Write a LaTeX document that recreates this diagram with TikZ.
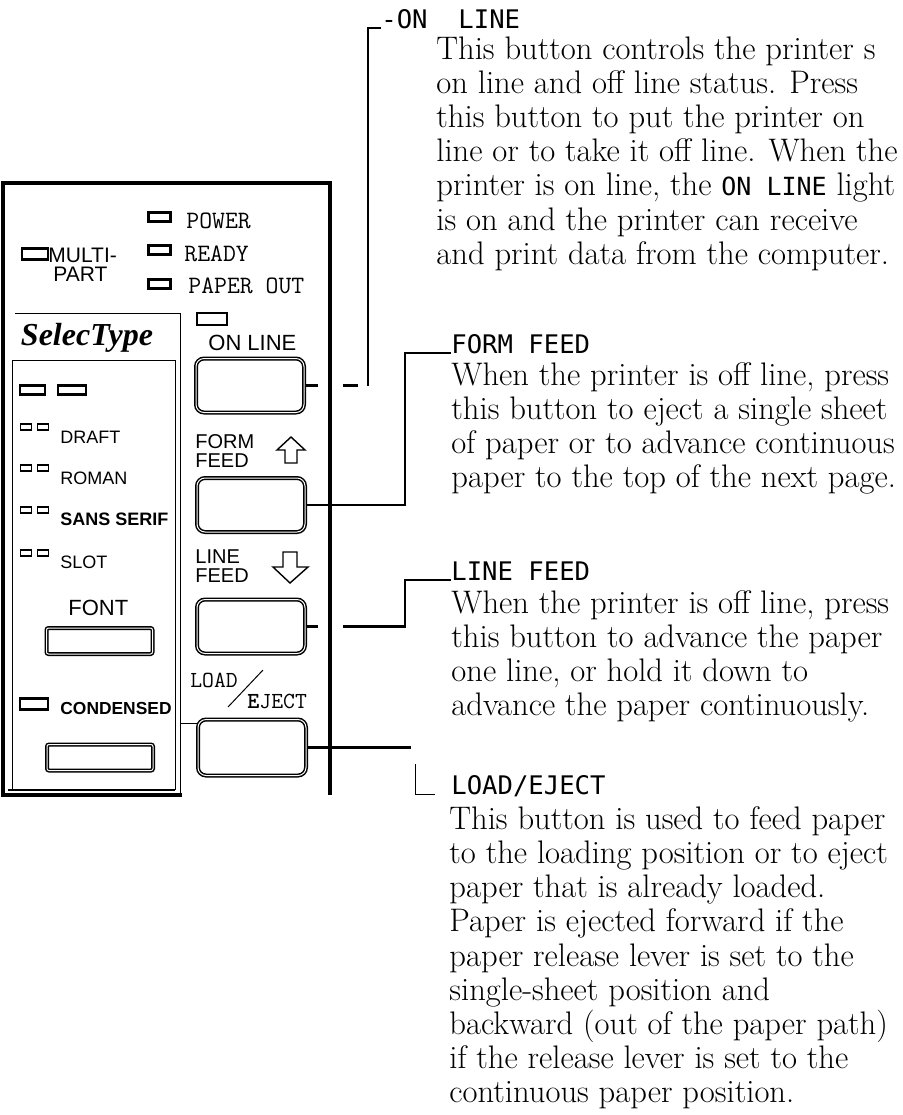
\documentclass[tikz,border=0pt]{standalone}
\usepackage{fontspec}
\setsansfont{Liberation Sans}
\newfontfamily\headfont{DejaVu Sans Mono}
\newfontfamily\selfont{Liberation Serif}
\usetikzlibrary{positioning, calc}
\setlength{\lineskiplimit}{-20pt}

\begin{document}
\begin{tikzpicture}[
        x=0.5pt, y=-0.5pt,
        led/.style={draw, line width=1.1pt, minimum width=11pt, minimum height=4.5pt, inner sep=0pt},
        minled/.style={draw, line width=0.6pt, minimum width=5.5pt, minimum height=3pt, inner sep=0pt},
        btn/.style={draw, line width=0.75pt, double, double distance=0.5pt, rounded corners=4pt, minimum width=54pt, minimum height=27pt, inner sep=0pt},
        flatbtn/.style={btn, rounded corners=1pt, minimum width=53pt, minimum height=13pt},
        monolbl/.style={font=\ttfamily\fontsize{12.5}{12.5}\selectfont, inner sep=0pt, anchor=base west},
        sanslbl/.style={font=\sffamily\fontsize{9}{9}\selectfont, inner sep=0pt, anchor=base west},
        head/.style={font=\headfont\fontsize{12.8}{13}\selectfont, inner sep=0pt, anchor=base west},
        body/.style={font=\fontsize{16.3}{17.1}\selectfont, align=left, inner sep=0pt, anchor=north west},
        conn/.style={line width=1.2pt},
        frame/.style={line width=2pt},
        thinline/.style={line width=0.5pt}
    ]
        \useasboundingbox (0,0) rectangle (903,1115);

        % Panel frame
        \draw[frame] (182,795) -- (3,795) -- (3,183) -- (330,183) -- (330,795);
        \draw[thinline] (15,313) -- (180,313) -- (180,795);
        \draw[thinline] (12,790) -- (12,360) -- (175,360) -- (175,790);
        \draw[line width=1pt] (8,790) -- (175,790);

        % Status lights
        \node[led] (ledPower) at (159.5,217) {};
        \node[monolbl] (lbPower) at (186,228) {POWER};
        \node[led] (ledReady) at (159.5,250) {};
        \node[monolbl] (lbReady) at (184,261) {READY};
        \node[led] (ledPaper) at (159.5,284) {};
        \node[monolbl] (lbPaper) at (188,293) {PAPER OUT};
        \node[led, minimum width=13pt, minimum height=5.5pt] (ledMulti) at (35,254) {};
        \node[sanslbl, font=\sffamily\fontsize{10.5}{10.5}\selectfont] (lbMulti) at (48,262) {MULTI-};
        \node[sanslbl, font=\sffamily\fontsize{10.5}{10.5}\selectfont] (lbPart) at (53,281) {PART};

        % Buttons on the right
        \node[led, minimum width=15pt, minimum height=6pt] (ledOnline) at (212,319) {};
        \node[sanslbl, font=\sffamily\fontsize{11}{11}\selectfont] (lbOnline) at (208,350) {ON LINE};
        \node[btn] (btnOnline) at (250,385.5) {};

        \node[sanslbl, font=\sffamily\fontsize{10}{9.5}\selectfont, align=left, anchor=north west] (lbFormfeed) at (195,434) {FORM\\FEED};
        \draw[line width=0.7pt] (291,437) -- (305,450) -- (297,450) -- (297,463) -- (285,463) -- (285,450) -- (277,450) -- cycle;
        \node[btn] (btnForm) at (251,505) {};

        \node[sanslbl, font=\sffamily\fontsize{10}{9.5}\selectfont, align=left, anchor=north west] (lbLinefeed) at (195,549) {LINE\\FEED};
        \draw[line width=0.7pt] (283,552) -- (297,552) -- (297,567) -- (308,567) -- (290,583) -- (273,567) -- (283,567) -- cycle;
        \node[btn] (btnLine) at (251,626.5) {};

        \node[monolbl, font=\ttfamily\fontsize{11.5}{11.5}\selectfont] (lbLoadA) at (190,687) {LOAD};
        \draw[thinline] (228,707) -- (263,670);
        \node[monolbl, font=\ttfamily\fontsize{11.5}{11.5}\selectfont] (lbLoadB) at (247,708) {\textbf{E}JECT};
        \node[btn, minimum height=28pt] (btnLoad) at (252,747.5) {};
        \draw[thinline] (180,723) -- (197,723);

        % SelecType section
        \node[font=\selfont\bfseries\itshape\fontsize{16}{16}\selectfont, inner sep=0pt] (lbSelec) at (87,338) {SelecType};
        \node[led, minimum width=12.5pt] (ledFontA) at (32.5,390) {};
        \node[led, minimum width=14pt] (ledFontB) at (72,390) {};

        \node[minled] (ledDraftA) at (26,427) {};
        \node[minled] (ledDraftB) at (43,427) {};
        \node[sanslbl] (lbDraft) at (60,443) {DRAFT};
        \node[minled] (ledRomanA) at (26,468) {};
        \node[minled] (ledRomanB) at (43,468) {};
        \node[sanslbl] (lbRoman) at (60,484) {ROMAN};
        \node[minled] (ledSansA) at (26,510) {};
        \node[minled] (ledSansB) at (43,510) {};
        \node[sanslbl, font=\sffamily\bfseries\fontsize{9}{9}\selectfont] (lbSans) at (60,525) {SANS SERIF};
        \node[minled] (ledSlotA) at (26,553) {};
        \node[minled] (ledSlotB) at (43,553) {};
        \node[sanslbl] (lbSlot) at (60,568) {SLOT};

        \node[sanslbl, font=\sffamily\fontsize{11}{11}\selectfont] (lbFont) at (68,615) {FONT};
        \node[flatbtn] (btnFont) at (99.5,641) {};
        \node[led, minimum width=14pt, minimum height=5.5pt] (ledCond) at (34,704) {};
        \node[sanslbl, font=\sffamily\bfseries\fontsize{8.7}{9}\selectfont] (lbCond) at (60,714) {CONDENSED};
        \node[flatbtn] (btnCond) at (100,757.5) {};

        % Headings
        \node[head] (hdOnline) at (381,28) {-ON\ \ LINE};
        \node[head] (hdForm) at (451,353) {FORM FEED};
        \node[head] (hdLine) at (451,580) {LINE FEED};
        \node[head] (hdLoad) at (451,794) {LOAD/EJECT};

        % Descriptions
        \node[body] (txOnline) at (436,36) {This button controls the printer s\\on line and off line status. Press\\this button to put the printer on\\line or to take it off line. When the\\printer is on line, the {\headfont\fontsize{12.5}{17.1}\selectfont ON LINE} light\\is on and the printer can receive\\and print data from the computer.};
        \node[body] (txForm) at (451,362) {When the printer is off line, press\\this button to eject a single sheet\\of paper or to advance continuous\\paper to the top of the next page.};
        \node[body] (txLine) at (451,590) {When the printer is off line, press\\this button to advance the paper\\one line, or hold it down to\\advance the paper continuously.};
        \node[body] (txLoad) at (449,806) {This button is used to feed paper\\to the loading position or to eject\\paper that is already loaded.\\Paper is ejected forward if the\\paper release lever is set to the\\single-sheet position and\\backward (out of the paper path)\\if the release lever is set to the\\continuous paper position.};

        % Leader lines
        \draw[conn, dash pattern=on 6.5pt off 12.5pt on 7.5pt off 5pt on 400pt off 1pt] (btnOnline.east) -- ++(63,0) |- (hdOnline.base west);
        \draw[conn] (btnForm.east) -- ++(99,0) |- (hdForm.base west);
        \draw[conn, dash pattern=on 6pt off 12.5pt on 400pt off 1pt] (btnLine.east) -- ++(99,0) |- (hdLine.base west);
        \draw[conn] (btnLoad.east) -- ++(104,0);
        \draw[thinline] ($(hdLoad.base west)+(-36,-30)$) |- ($(hdLoad.base west)+(-16,0)$);
    \end{tikzpicture}
\end{document}
